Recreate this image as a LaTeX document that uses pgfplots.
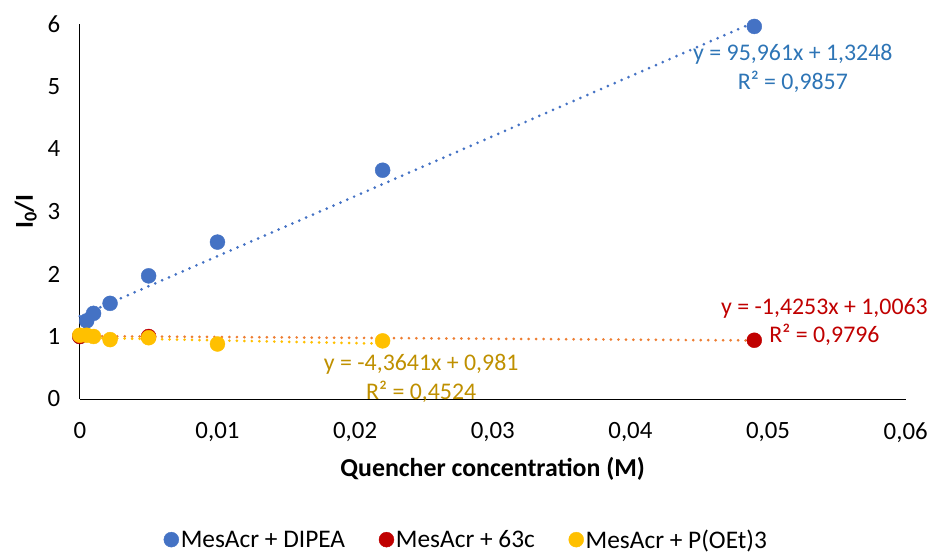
\documentclass[border=0pt]{standalone}
\usepackage{pgfplots}
\pgfplotsset{compat=1.18}
\usepackage{fontspec}
\setmainfont{Carlito}
\definecolor{cblue}{HTML}{4472C4}
\definecolor{cred}{HTML}{C00000}
\definecolor{cyel}{HTML}{FFC000}
\definecolor{corange}{HTML}{ED7D31}
\definecolor{tblue}{HTML}{2E75B6}
\definecolor{tyel}{HTML}{BF9000}
\begin{document}
\begin{tikzpicture}[x=1bp,y=1bp]
\begin{axis}[
  at={(0,0)}, anchor=south west,
  scale only axis, width=828bp, height=376bp,
  xmin=0, xmax=0.06, ymin=0, ymax=6,
  xtick={0,0.01,0.02,0.03,0.04,0.05,0.06},
  ytick={0,1,2,3,4,5,6},
  axis lines=left, axis line style={black, line width=0.9pt, -},
  tick style={draw=none},
  /pgf/number format/assume math mode=true,
  /pgf/number format/use comma,
  xticklabel style={/pgf/number format/fixed, /pgf/number format/precision=2, font=\fontsize{25}{28}\selectfont, yshift=-18bp},
  yticklabel style={font=\fontsize{25}{28}\selectfont, xshift=-14bp},
  scaled x ticks=false,
  xlabel={\bfseries Quencher concentration (M)},
  xlabel style={font=\fontsize{26}{29}\selectfont, yshift=-8bp},
  ylabel={\bfseries I\textsubscript{0}/I},
  ylabel style={font=\fontsize{26}{29}\selectfont, yshift=4bp},
  clip=false,
  legend columns=3,
  legend style={draw=none, at={(0.468,-0.375)}, anchor=center, font=\fontsize{25.5}{28}\selectfont,
    /tikz/every even column/.append style={column sep=32bp}},
  legend cell align=left,
]
% trendlines
\addplot[corange, line width=3pt, line cap=round, dash pattern=on 0pt off 7.5bp, forget plot] coordinates {(0,1.0063) (0.049,0.9365)};
\addplot[cyel, line width=3pt, line cap=round, dash pattern=on 0pt off 7.5bp, forget plot] coordinates {(0,0.981) (0.022,0.885)};
\addplot[cblue, line width=3pt, line cap=round, dash pattern=on 0pt off 7.5bp, forget plot] coordinates {(0,1.3248) (0.0488,6.008)};
% data
\addplot[only marks, mark=*, mark size=7.5bp, color=cblue] coordinates {
 (0,1.0) (0.0005,1.25) (0.001,1.37) (0.0022,1.53) (0.005,1.97) (0.01,2.51) (0.022,3.66) (0.049,5.96)};
\addlegendentry{MesAcr + DIPEA}
\addplot[only marks, mark=*, mark size=7.5bp, color=cred] coordinates {
 (0,1.0) (0.005,1.0) (0.049,0.94)};
\addlegendentry{MesAcr + 63c}
\addplot[only marks, mark=*, mark size=7.5bp, color=cyel] coordinates {
 (0,1.02) (0.0005,1.02) (0.001,1.0) (0.0022,0.95) (0.005,0.98) (0.01,0.88) (0.022,0.93)};
\addlegendentry{MesAcr + P(OEt)3}
\node[tblue, font=\fontsize{24}{29}\selectfont, align=center, anchor=north, inner sep=0pt] at (axis cs:0.0518,5.68) {y = 95,961x + 1,3248\\R² = 0,9857};
\node[cred, font=\fontsize{24}{29}\selectfont, align=center, anchor=north, inner sep=0pt] at (axis cs:0.0541,1.62) {y = -1,4253x + 1,0063\\R² = 0,9796};
\node[tyel, font=\fontsize{24}{29}\selectfont, align=center, anchor=north, inner sep=0pt] at (axis cs:0.0248,0.72) {y = -4,3641x + 0,981\\R² = 0,4524};
\end{axis}
\path[use as bounding box] (-80,-151) rectangle (851,400);
\end{tikzpicture}
\end{document}
